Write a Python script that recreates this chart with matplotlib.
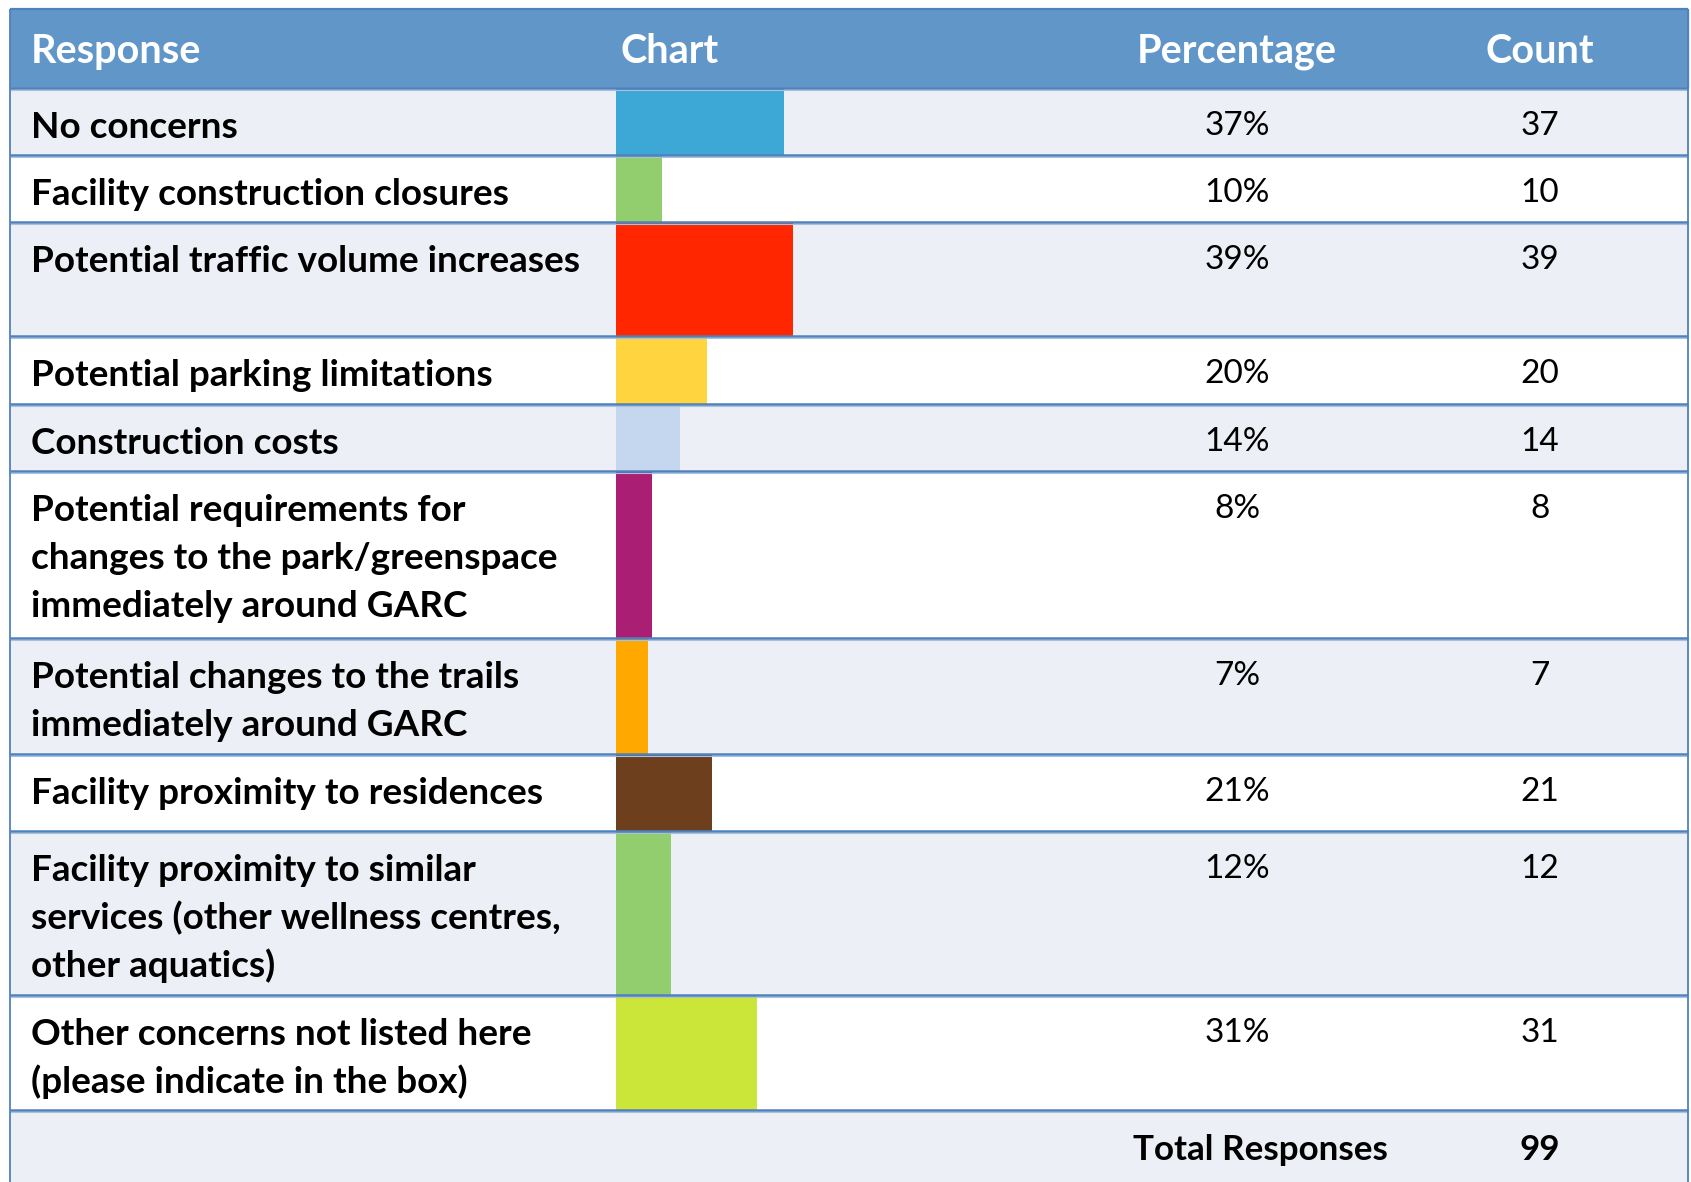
import matplotlib
matplotlib.use("Agg")
import matplotlib.pyplot as plt
from matplotlib.patches import Rectangle

plt.rcParams["font.family"] = ["Lato", "DejaVu Sans"]

# ---- survey data -------------------------------------------------------
headers = ["Response", "Chart", "Percentage", "Count"]
responses = [
    "No concerns",
    "Facility construction closures",
    "Potential traffic volume increases",
    "Potential parking limitations",
    "Construction costs",
    "Potential requirements for\nchanges to the park/greenspace\nimmediately around GARC",
    "Potential changes to the trails\nimmediately around GARC",
    "Facility proximity to residences",
    "Facility proximity to similar\nservices (other wellness centres,\nother aquatics)",
    "Other concerns not listed here\n(please indicate in the box)",
]
percentages = [37, 10, 39, 20, 14, 8, 7, 21, 12, 31]
counts = [37, 10, 39, 20, 14, 8, 7, 21, 12, 31]
total_label = "Total Responses"
total_responses = 99
bar_colors = ["#3DA8D6", "#92CD6E", "#FF2600", "#FFD43F", "#C5D6EF",
              "#AA1F73", "#FFA800", "#6E3F1C", "#92CD6E", "#CBE538"]

# ---- layout (pixel units) ---------------------------------------------
W, H = 1691, 1182
header_top = 9
row_edges = [88, 155, 222, 336, 404, 471, 638, 754, 831, 995, 1110]
table_bottom = H
table_left, table_right = 10, 1688
label_x, chart_x = 31, 621
pct_x, count_x = 1237, 1540
total_x = 1260
bar_left = 616
px_per_pct = 4.55
line_gap = 48
label_base = 50
num_base = 47

header_color = "#6196C9"
stripe_color = "#ECEFF5"
rule_color = "#4F81BD"
rule_light = "#A9C0DE"

label_size = 26.6
num_size = 24
header_size = 28.5
total_size = 25.2

fig = plt.figure(figsize=(W / 100, H / 100), dpi=100)
ax = fig.add_axes([0, 0, 1, 1])
ax.set_xlim(0, W)
ax.set_ylim(H, 0)
ax.axis("off")

# header band
ax.add_patch(Rectangle((table_left, header_top), table_right - table_left,
                       row_edges[0] - header_top, color=header_color, zorder=0))

# striped row backgrounds (data rows + total row)
edges = row_edges + [table_bottom]
for i in range(len(edges) - 1):
    fc = stripe_color if i % 2 == 0 else "white"
    ax.add_patch(Rectangle((table_left, edges[i]), table_right - table_left,
                           edges[i + 1] - edges[i], color=fc, zorder=0))

# bars in the chart column
tops = row_edges[:-1]
bottoms = row_edges[1:]
centers = [(t + b) / 2 for t, b in zip(tops, bottoms)]
heights = [b - t for t, b in zip(tops, bottoms)]
ax.barh(centers, [p * px_per_pct for p in percentages], height=heights,
        left=bar_left, color=bar_colors, zorder=2)

# horizontal rules
ax.hlines([header_top], table_left, table_right, color=rule_color, lw=1.6, zorder=3)
ax.hlines(row_edges, table_left, table_right, color=rule_color, lw=1.8, zorder=3)
ax.hlines([e + 2.2 for e in row_edges], table_left, table_right,
          color=rule_light, lw=0.8, zorder=3)
# side borders
ax.vlines([table_left, table_right], header_top, table_bottom,
          color=rule_color, lw=1.3, zorder=3)

# header text
hdr_base = 63
ax.text(label_x, hdr_base, headers[0], color="white", fontsize=header_size,
        fontweight="bold", ha="left", va="baseline")
ax.text(chart_x, hdr_base, headers[1], color="white", fontsize=header_size,
        fontweight="bold", ha="left", va="baseline")
ax.text(pct_x, hdr_base, headers[2], color="white", fontsize=header_size,
        fontweight="bold", ha="center", va="baseline")
ax.text(count_x, hdr_base, headers[3], color="white", fontsize=header_size,
        fontweight="bold", ha="center", va="baseline")

# row text
for top, label, pct, cnt in zip(tops, responses, percentages, counts):
    for k, line in enumerate(label.split("\n")):
        ax.text(label_x, top + label_base + k * line_gap, line,
                fontsize=label_size, fontweight="bold", color="black",
                ha="left", va="baseline")
    ax.text(pct_x, top + num_base, f"{pct}%", fontsize=num_size,
            color="black", ha="center", va="baseline")
    ax.text(count_x, top + num_base, f"{cnt}", fontsize=num_size,
            color="black", ha="center", va="baseline")

# total row
ax.text(total_x, row_edges[-1] + label_base, total_label, fontsize=total_size,
        fontweight="bold", color="black", ha="center", va="baseline")
ax.text(count_x, row_edges[-1] + label_base, f"{total_responses}",
        fontsize=total_size, fontweight="bold", color="black",
        ha="center", va="baseline")

fig.savefig("out.png", dpi=100)
